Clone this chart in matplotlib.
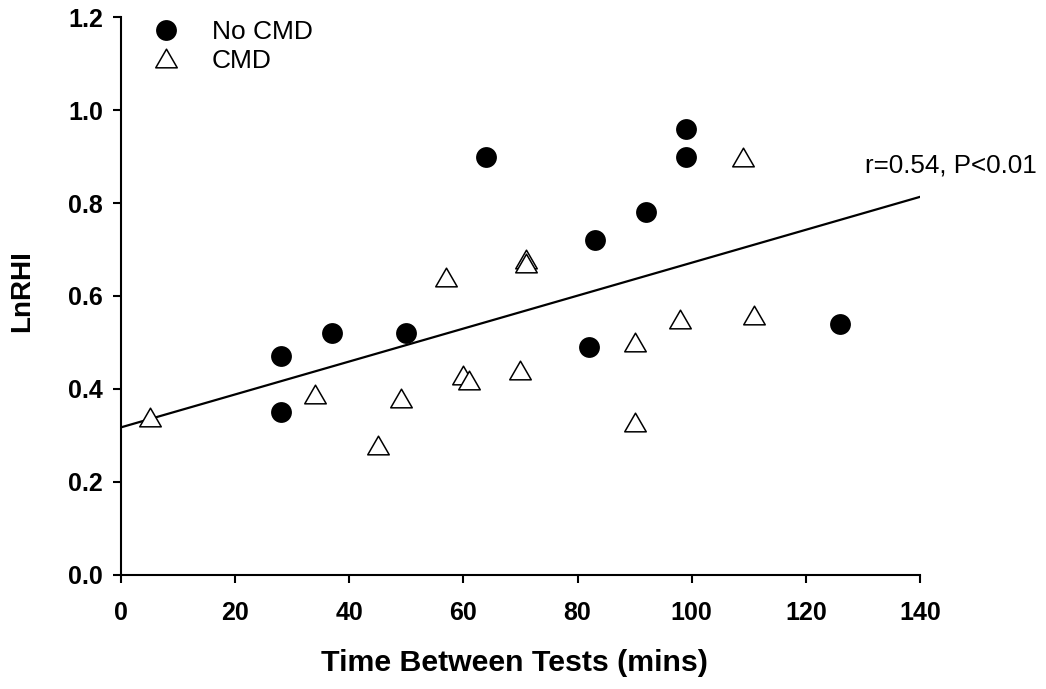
import numpy as np
import matplotlib
matplotlib.use("Agg")
import matplotlib.pyplot as plt
from matplotlib.path import Path

plt.rcParams['font.family'] = ['Liberation Sans', 'DejaVu Sans']

# time between tests (mins) and LnRHI for each group
no_cmd_x = [28, 28, 37, 50, 64, 83, 92, 99, 99, 82, 126]
no_cmd_y = [0.47, 0.35, 0.52, 0.52, 0.90, 0.72, 0.78, 0.90, 0.96, 0.49, 0.54]
cmd_x = [5, 34, 45, 49, 57, 60, 61, 71, 71, 70, 90, 90, 98, 109, 111]
cmd_y = [0.34, 0.39, 0.28, 0.38, 0.64, 0.43, 0.42, 0.68, 0.67, 0.44, 0.50, 0.33, 0.55, 0.90, 0.56]

stat_text = "r=0.54, P<0.01"
x_ticks = [0, 20, 40, 60, 80, 100, 120, 140]
y_ticks = [0.0, 0.2, 0.4, 0.6, 0.8, 1.0, 1.2]

# equilateral triangle, centred on its bounding box
tri = Path([(0, 0.433), (-0.5, -0.433), (0.5, -0.433), (0, 0.433)],
           [Path.MOVETO, Path.LINETO, Path.LINETO, Path.CLOSEPOLY])

fig = plt.figure(figsize=(10.46, 6.89), dpi=100)
ax = fig.add_axes([0.1157, 0.1655, 0.7638, 0.8098])

# pooled linear fit
all_x = np.array(no_cmd_x + cmd_x, dtype=float)
all_y = np.array(no_cmd_y + cmd_y, dtype=float)
slope, icpt = np.polyfit(all_x, all_y, 1)
fx = np.array([0, 140])
ax.plot(fx, slope * fx + icpt, color='black', lw=1.6, zorder=2)

ax.plot(no_cmd_x, no_cmd_y, ls='none', marker='o', ms=15, mfc='black',
        mec='black', mew=0, zorder=3, label='No CMD')
ax.plot(cmd_x, cmd_y, ls='none', marker=tri, ms=15.5, mfc='white',
        mec='black', mew=1.1, zorder=3, label='CMD')

ax.text(130.4, 0.866, stat_text, fontsize=18.7, ha='left', va='baseline',
        clip_on=False)

ax.set_xlim(0, 140)
ax.set_ylim(0, 1.2)
ax.set_xticks(x_ticks)
ax.set_yticks(y_ticks)
ax.set_xticklabels([str(t) for t in x_ticks])
ax.set_yticklabels([f"{t:.1f}" for t in y_ticks])
for s in ['top', 'right']:
    ax.spines[s].set_visible(False)
for s in ['left', 'bottom']:
    ax.spines[s].set_linewidth(1.5)
ax.tick_params(axis='both', direction='out', length=6, width=1.5,
               labelsize=18)
ax.tick_params(axis='x', pad=13)
ax.tick_params(axis='y', pad=7)
for lab in ax.get_xticklabels() + ax.get_yticklabels():
    lab.set_fontweight('bold')

ax.set_xlabel("Time Between Tests (mins)", fontsize=21.8, fontweight='bold')
ax.set_ylabel("LnRHI", fontsize=20, fontweight='bold')
ax.xaxis.set_label_coords(0.4925, -0.132)
ax.yaxis.set_label_coords(-0.108, 0.509)

ax.legend(loc='upper left', bbox_to_anchor=(0.027, 1.0134), frameon=False,
          fontsize=19, handletextpad=1.23, labelspacing=0.17,
          handlelength=1.0, borderaxespad=0)

fig.savefig("out.png", dpi=100)
